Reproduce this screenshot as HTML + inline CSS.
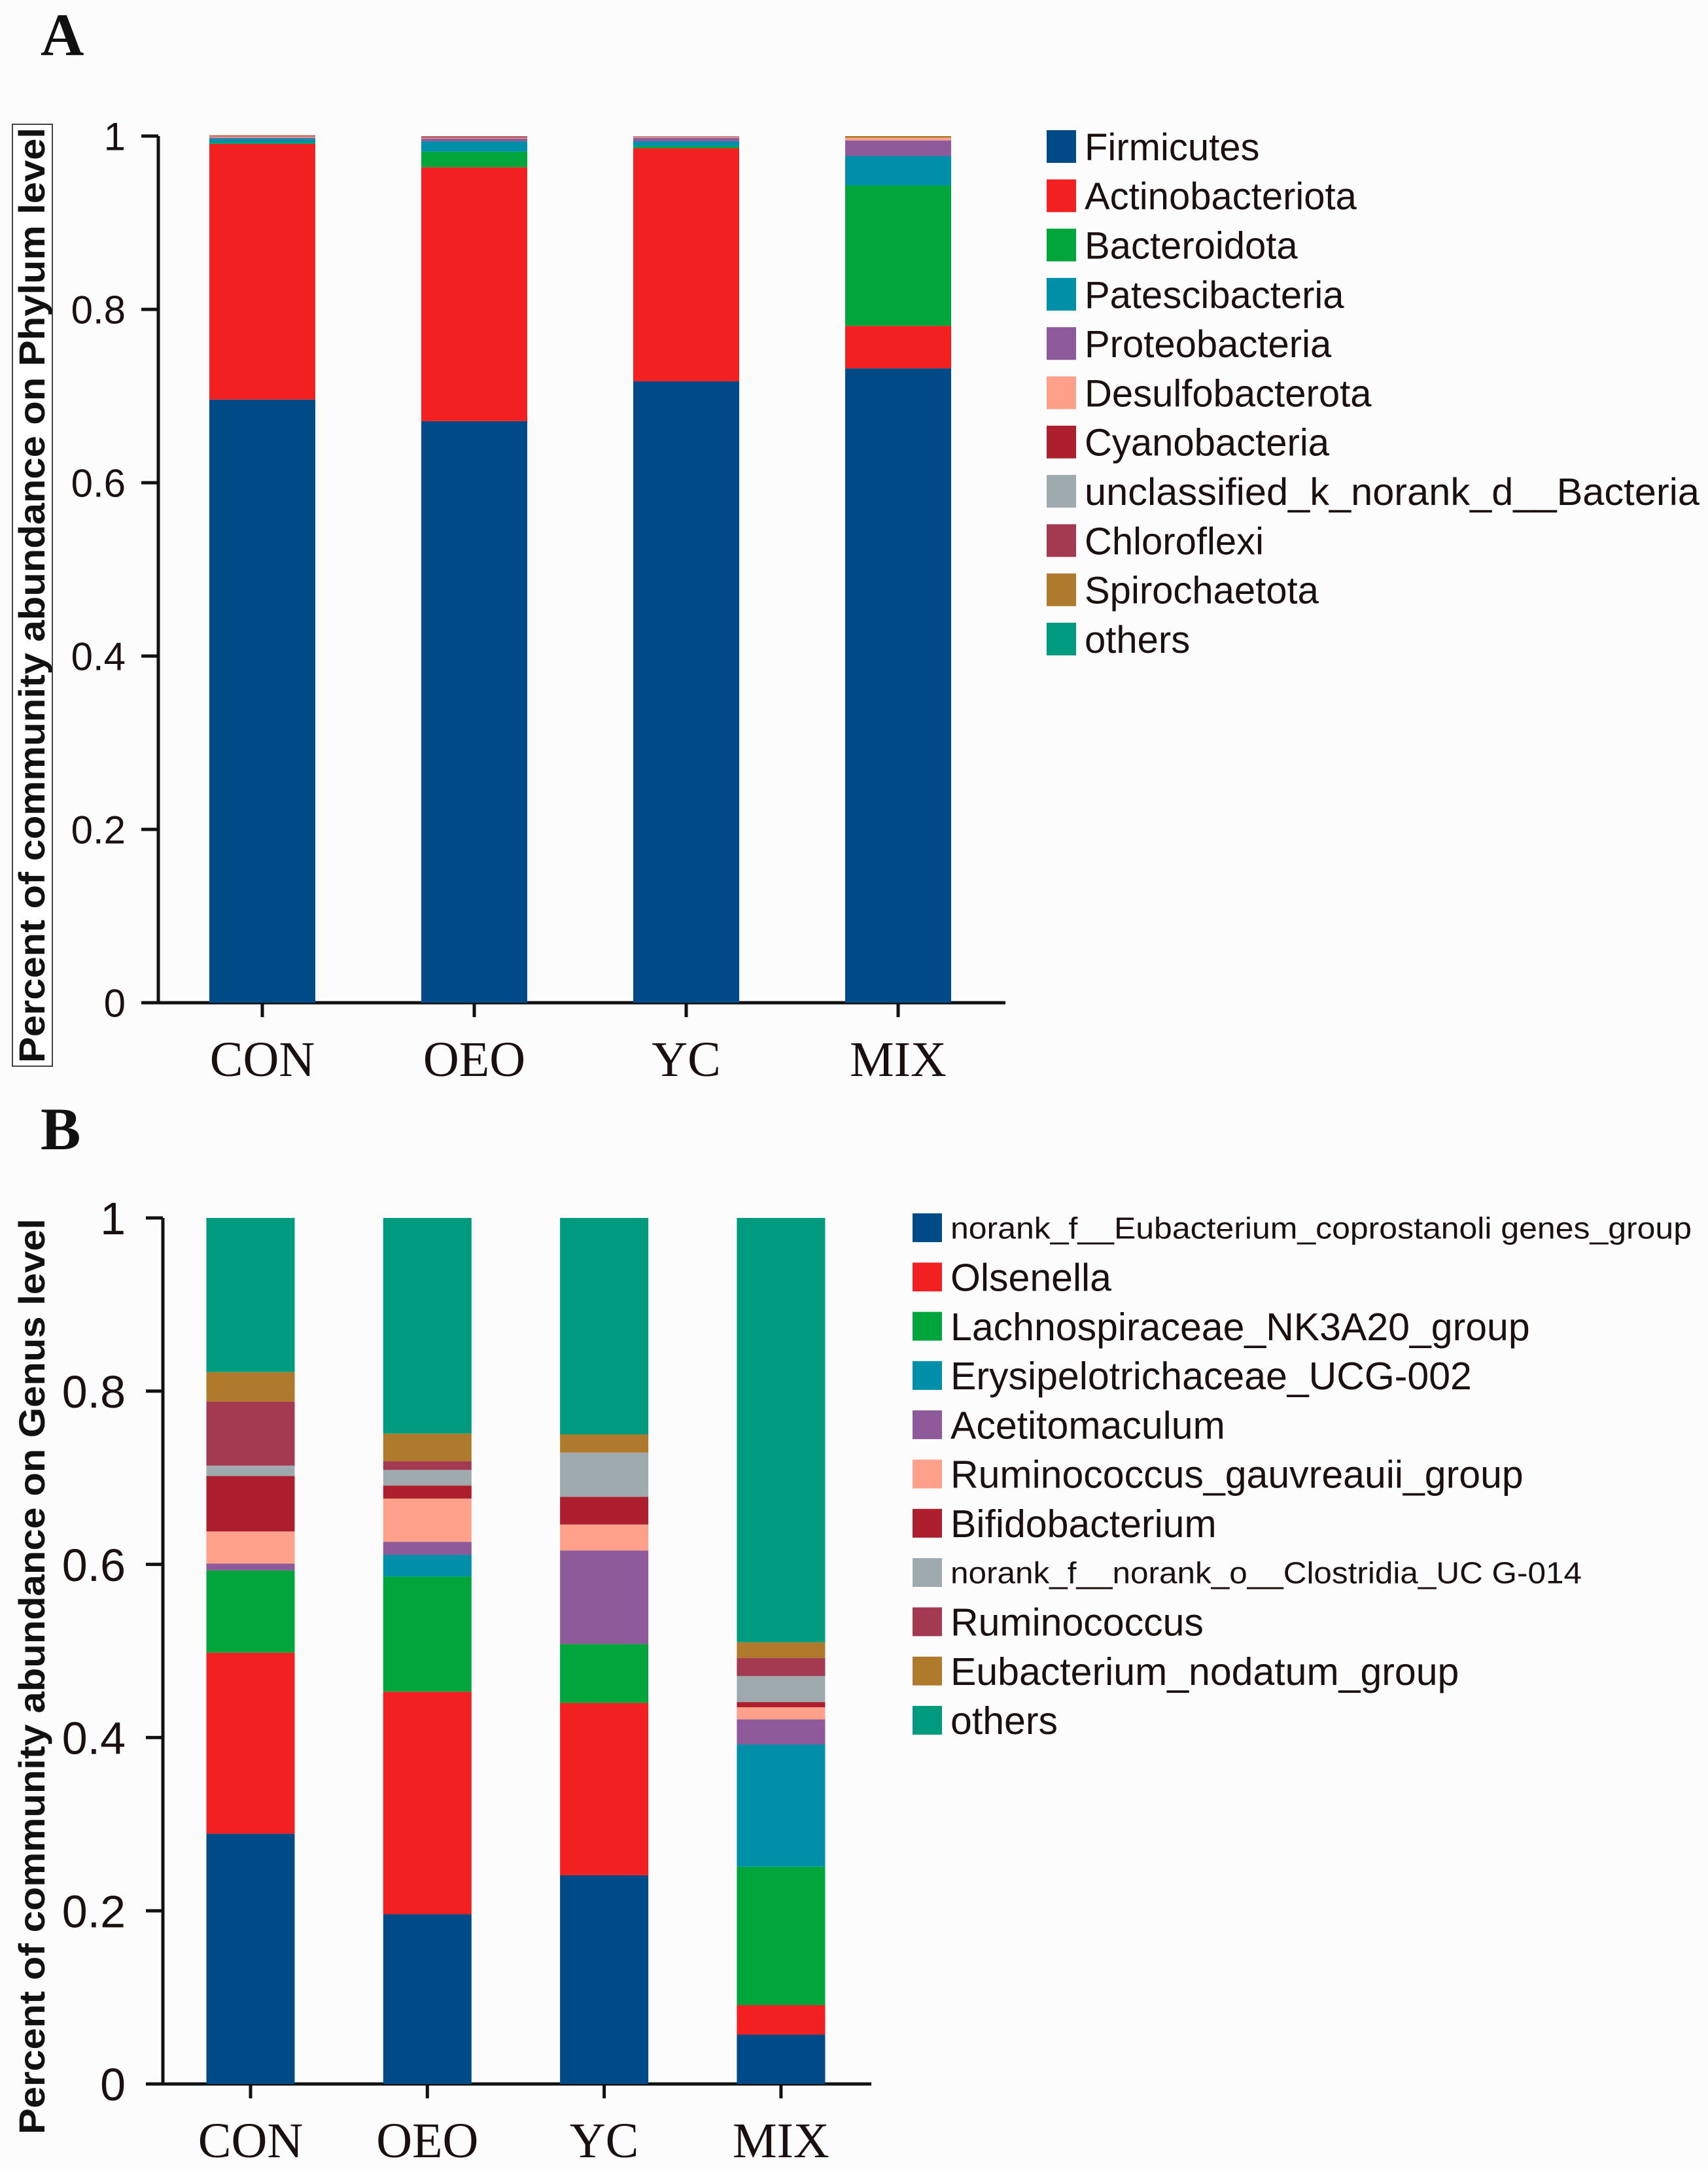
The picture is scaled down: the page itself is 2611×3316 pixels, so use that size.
<!DOCTYPE html>
<html><head><meta charset="utf-8"><style>
html,body{margin:0;padding:0;background:#fcfcfc;}
svg{display:block;}
</style></head><body>
<svg id="fig" width="2611" height="3316" viewBox="0 0 2611 3316" xmlns="http://www.w3.org/2000/svg">
<rect x="0" y="0" width="2611" height="3316" fill="#fcfcfc"/>
<text x="62" y="84" font-family="Liberation Serif, serif" font-weight="bold" font-size="92" fill="#111">A</text>
<text x="62" y="1757" font-family="Liberation Serif, serif" font-weight="bold" font-size="92" fill="#111">B</text>
<rect x="19" y="190" width="61" height="1440" fill="#fff" stroke="#444" stroke-width="2"/>
<text transform="translate(68,910) rotate(-90)" text-anchor="middle" font-family="Liberation Sans, sans-serif" font-weight="bold" font-size="56" fill="#111" textLength="1430" lengthAdjust="spacingAndGlyphs">Percent of community abundance on Phylum level</text>
<text transform="translate(68,2563) rotate(-90)" text-anchor="middle" font-family="Liberation Sans, sans-serif" font-weight="bold" font-size="56" fill="#111" textLength="1400" lengthAdjust="spacingAndGlyphs">Percent of community abundance on Genus level</text>
<g id="chartA"></g>
<g id="chartB"></g>
</svg>
<script>
const samples = ["CON","OEO","YC","MIX"];
const yTicks = [0,0.2,0.4,0.6,0.8,1];
const yTickLabels = ["0","0.2","0.4","0.6","0.8","1"];
const phylumNames = ["Firmicutes","Actinobacteriota","Bacteroidota","Patescibacteria","Proteobacteria","Desulfobacterota","Cyanobacteria","unclassified_k_norank_d__Bacteria","Chloroflexi","Spirochaetota","others"];
const phylumCON = [0.696,0.295,0.001,0.005,0.001,0.001,0.0005,0.0005,0.0005,0.0005,0];
const phylumOEO = [0.671,0.293,0.018,0.012,0.003,0.001,0.001,0.0005,0.0005,0,0];
const phylumYC  = [0.717,0.269,0.002,0.006,0.004,0.001,0.0005,0.0005,0,0,0];
const phylumMIX = [0.732,0.049,0.162,0.034,0.018,0.003,0,0,0,0.002,0];
const genusNames = ["norank_f__Eubacterium_coprostanoli genes_group","Olsenella","Lachnospiraceae_NK3A20_group","Erysipelotrichaceae_UCG-002","Acetitomaculum","Ruminococcus_gauvreauii_group","Bifidobacterium","norank_f__norank_o__Clostridia_UC G-014","Ruminococcus","Eubacterium_nodatum_group","others"];
const genusCON = [0.289,0.209,0.095,0,0.008,0.037,0.064,0.012,0.074,0.034,0.178];
const genusOEO = [0.196,0.257,0.133,0.025,0.015,0.050,0.015,0.018,0.010,0.032,0.249];
const genusYC  = [0.241,0.199,0.068,0,0.108,0.030,0.032,0.051,0,0.021,0.250];
const genusMIX = [0.057,0.034,0.160,0.141,0.029,0.014,0.006,0.030,0.021,0.018,0.490];
const colors = ["#004b87","#f22020","#00a63c","#008fa8","#8e5a9a","#ffa08a","#ad1e2e","#9eaaad","#a33a52","#b07a2c","#009a7e"];

const NS="http://www.w3.org/2000/svg";
function mk(tag,attrs,parent){const e=document.createElementNS(NS,tag);for(const k in attrs)e.setAttribute(k,attrs[k]);parent.appendChild(e);return e;}

function drawChart(g,cfg,series,names){
  const y=v=>cfg.y0-(cfg.y0-cfg.y1)*v;
  const x=i=>cfg.xFirst+i*cfg.step;
  let l=mk('line',{x1:cfg.axisX,y1:cfg.y1,x2:cfg.axisX,y2:cfg.y0,stroke:'#111','stroke-width':5},g);
  
  
  l=mk('line',{x1:cfg.axisX-26,y1:cfg.y0,x2:cfg.xEnd,y2:cfg.y0,stroke:'#111','stroke-width':5},g);
  
  
  yTicks.forEach((t,i)=>{
    const tk=mk('line',{x1:cfg.axisX-26,y1:y(t),x2:cfg.axisX,y2:y(t),stroke:'#111','stroke-width':5},g);
    
    
    const tx=mk('text',{x:192,y:y(t)+cfg.tickFs*0.36,'text-anchor':'end','font-family':'Liberation Sans, sans-serif','font-size':cfg.tickFs,fill:'#1a1010'},g);
    tx.textContent=yTickLabels[i];
    
    
  });
  samples.forEach((s,i)=>{
    const cx=x(i);
    let cum=0;
    series[i].forEach((v,k)=>{
      if(v<=0)return;
      const r=mk('rect',{x:cx-cfg.bw/2,y:y(cum+v),width:cfg.bw,height:y(cum)-y(cum+v),fill:colors[k]},g);
      
      
      cum+=v;
    });
    const tk=mk('line',{x1:cx,y1:cfg.y0,x2:cx,y2:cfg.y0+22,stroke:'#111','stroke-width':5},g);
    
    
    const tx=mk('text',{x:cx,y:cfg.catY,'text-anchor':'middle','font-family':'Liberation Serif, serif','font-size':76,fill:'#1a1010'},g);
    tx.textContent=s;
    
    
  });
  names.forEach((n,k)=>{
    const cy=cfg.legY+k*75.3;
    const sw=mk('rect',{x:cfg.legX,y:cy-cfg.swH/2,width:45,height:cfg.swH,fill:colors[k]},g);
    
    
    const fs=(cfg.smallIdx.indexOf(k)>=0)?46:cfg.legFs;
    const attrs={x:cfg.legX+58,y:cy+fs*0.36,'font-family':'Liberation Sans, sans-serif','font-size':fs,fill:'#1a1010'};
    if(cfg.lens[k]){attrs.textLength=cfg.lens[k];attrs.lengthAdjust='spacingAndGlyphs';}
    const tx=mk('text',attrs,g);
    tx.textContent=n;
    
    
  });
}
drawChart(document.getElementById('chartA'),
  {y0:1533,y1:208,axisX:242,xEnd:1537,xFirst:401,step:324,bw:162,tickFs:60,catY:1645,legX:1600,legY:224,swH:50,legFs:58,smallIdx:[],lens:{7:940}},
  [phylumCON,phylumOEO,phylumYC,phylumMIX],phylumNames);
drawChart(document.getElementById('chartB'),
  {y0:3186,y1:1862,axisX:249,xEnd:1332,xFirst:383,step:270.3,bw:135,tickFs:70,catY:3298,legX:1395,legY:1877,swH:44,legFs:59,smallIdx:[0,7],lens:{0:1133,7:965}},
  [genusCON,genusOEO,genusYC,genusMIX],genusNames);
</script>
</body></html>
